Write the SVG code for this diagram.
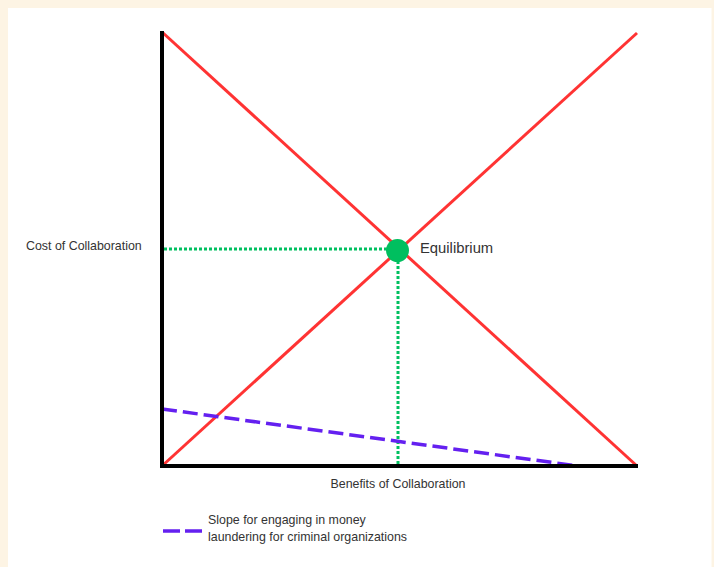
<svg xmlns="http://www.w3.org/2000/svg" width="714" height="567" viewBox="0 0 714 567">
<style>
text{font-family:"Liberation Sans",Arial,sans-serif;fill:#333}
.red{stroke:#FF3333;stroke-width:3;fill:none}
.axis{stroke:#000;stroke-width:4;fill:none}
.dot{stroke:#00C060;stroke-width:3;stroke-dasharray:3 2;fill:none}
.purple{stroke:#6420F0;stroke-width:3.5;stroke-dasharray:15 6;fill:none}
</style>
<rect width="714" height="567" fill="#FDF4E4"/>
<rect x="8" y="8" width="703.5" height="559" fill="#fff"/>
<g id="connectors">
<line class="red" x1="162" y1="32" x2="637" y2="466"/>
<line class="red" x1="162" y1="466" x2="637" y2="33"/>
<line class="dot" x1="164" y1="249" x2="387" y2="249"/>
<line class="dot" x1="398" y1="261" x2="398" y2="464"/>
<line class="purple" x1="162" y1="409" x2="578" y2="466"/>
<line class="axis" x1="162" y1="31" x2="162" y2="468"/>
<line class="axis" x1="160" y1="466" x2="638" y2="466"/>
</g>
<g id="equilibrium">
<circle cx="397.5" cy="250.5" r="11.5" fill="#00BF5F"/>
<text x="420" y="253" font-size="14.8">Equilibrium</text>
</g>
<g id="y-label"><text x="26" y="250" font-size="12.4">Cost of Collaboration</text></g>
<g id="x-label"><text x="398" y="488" font-size="12.4" text-anchor="middle">Benefits of Collaboration</text></g>
<g id="legend">
<line x1="163" y1="531" x2="203" y2="531" stroke="#6420F0" stroke-width="3.5" stroke-dasharray="17 5"/>
<text x="208" y="524" font-size="12.4">Slope for engaging in money</text>
<text x="208" y="541" font-size="12.4">laundering for criminal organizations</text>
</g>
</svg>
